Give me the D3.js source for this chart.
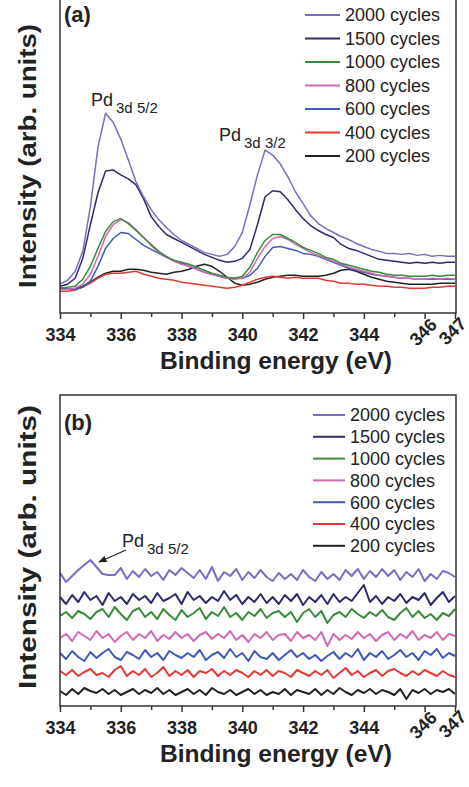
<!DOCTYPE html>
<html>
<head>
<meta charset="utf-8">
<script src="https://cdn.jsdelivr.net/npm/d3@7"></script>
<style>
  body { margin: 0; background: #fff; }
  svg { display: block; }
  text { font-family: "Liberation Sans", Arial, Helvetica, sans-serif; fill: #222; }
</style>
</head>
<body>
<svg id="chart" width="469" height="787"></svg>
<script>
// Deposition cycles, legend order
const seriesNames = ["2000 cycles", "1500 cycles", "1000 cycles", "800 cycles", "600 cycles", "400 cycles", "200 cycles"];
const seriesColors = ["#7a6cc4", "#2c2a6b", "#3a8a3c", "#d068b4", "#4058b8", "#e53935", "#222222"];

// Binding energy axis (eV)
const energyMin = 334;
const energyMax = 347;
const xTickValues = [334, 335, 336, 337, 338, 339, 340, 341, 342, 343, 344, 345, 346, 347];
const xTickLabels = ["334", "", "336", "", "338", "", "340", "", "342", "", "344", "", "346", "347"];

// (a) Pd 3d region, intensity (arb. units), evenly spaced from 334 to 347 eV
const a2000 = [27,31,40,60,105,165,199,190,173,152, 130,115,102,92,84,77,71,67,63,59, 57,55,57,65,79,107,137,162,157,148, 135,120,108,96,88,83,79,75,72,68, 65,62,60,58,58,57,58,56,57,55, 56,55,55];
const a1500 = [25,27,33,53,87,119,141,142,137,133, 127,113,95,85,77,73,69,65,61,57, 54,51,49,50,53,62,87,115,121,120, 112,102,93,86,81,77,74,67,63,61, 58,55,52,51,50,49,48,49,48,49, 48,49,49];
const a1000 = [23,24,25,32,45,63,80,90,93,88, 81,74,67,60,55,51,49,47,44,41, 38,36,34,33,35,44,59,71,77,77, 73,69,64,61,58,54,52,48,46,44, 42,40,39,37,36,36,35,35,35,36, 35,36,36];
const a800  = [22,22,23,27,37,55,75,87,92,89, 82,74,66,59,54,50,47,45,42,39, 37,35,33,32,33,39,53,65,73,75, 72,67,63,59,56,53,50,47,44,42, 40,38,36,35,34,33,33,32,32,33, 32,33,32];
const a600  = [22,22,22,24,30,45,63,73,79,78, 72,66,62,58,54,51,48,45,42,39, 37,35,33,33,33,36,43,55,64,65, 63,61,58,57,55,52,49,46,43,41, 39,37,36,35,34,33,33,32,32,32, 32,32,32];
const a400  = [20,20,21,24,28,33,37,38,38,39, 40,37,35,33,32,31,29,28,27,26, 25,24,23,24,26,29,32,34,35,34, 33,34,33,33,33,31,30,28,28,27, 27,26,25,25,24,24,23,23,23,24, 24,25,25];
const a200  = [23,22,22,25,29,34,38,40,40,42, 42,41,39,38,37,39,40,42,45,47, 45,40,34,28,26,27,29,32,34,35, 36,36,35,35,35,36,38,41,42,40, 37,34,32,30,29,28,27,27,27,27, 28,28,28];

// (b) same energy window, stacked spectra (arb. units)
const b2000 = [133,124,130,136,141,146,139,132,131,131, 138,127,135,129,137,130,134,126,136,131, 138,133,128,136,127,139,125,134,130,137, 126,134,128,136,129,125,133,127,132,126, 136,129,125,134,127,132,126,136,130,137, 127,135,129,137,130,136,126,134,129,137, 125,132,127,135,133,129];
const b1500 = [109,102,111,104,114,106,110,101,113,105, 109,102,112,106,110,103,113,105,108,112, 102,114,106,110,103,109,105,115,106,111, 102,109,104,112,103,109,102,111,105,112, 101,109,104,111,102,112,104,109,105,113, 121,104,110,102,109,105,112,103,109,106, 113,101,108,114,104,110];
const b1000 = [90,94,88,95,92,87,94,97,89,99, 92,86,95,98,89,94,87,97,91,86, 96,89,93,98,87,94,90,99,89,93, 86,94,90,97,88,93,95,89,94,84, 93,97,89,95,83,91,94,89,97,92, 88,94,90,96,89,86,93,98,89,95, 88,92,86,93,90,97];
const b800  = [68,72,65,74,70,66,75,68,72,64, 70,74,66,72,68,75,65,71,67,74, 68,72,65,71,74,67,72,68,75,66, 71,64,72,68,74,66,71,72,65,74, 68,71,66,74,60,72,66,71,67,74, 68,72,65,71,74,66,72,68,75,66, 71,68,74,66,72,70];
const b600  = [53,47,55,49,45,54,48,53,57,49, 46,54,51,47,56,49,53,46,55,51, 48,53,49,56,46,51,54,48,57,49, 53,45,55,49,47,53,46,51,56,49, 53,47,51,45,50,54,47,53,49,57, 46,53,49,55,47,51,56,49,53,46, 55,51,57,48,53,50];
const b400  = [35,31,36,30,34,37,31,33,29,36, 40,30,35,31,37,29,33,39,30,35, 31,36,29,35,33,37,30,35,31,36, 33,29,35,31,36,30,35,33,29,36, 33,30,35,31,36,28,33,38,31,35, 29,33,36,30,35,37,33,30,35,31, 36,33,30,35,31,29];
const b200  = [15,11,17,12,18,15,13,17,12,16, 11,14,17,12,16,13,18,12,16,11, 14,17,12,16,11,18,14,12,16,11, 14,17,12,16,11,14,12,17,11,16, 14,12,17,11,16,12,18,14,11,16, 13,17,12,16,14,11,17,7,16,13, 17,12,16,14,17,12];

const panelASeries = [a2000, a1500, a1000, a800, a600, a400, a200];
const panelBSeries = [b2000, b1500, b1000, b800, b600, b400, b200];

const svg = d3.select("#chart");
const FONT = '"Liberation Sans", Arial, Helvetica, sans-serif';

// pair each intensity with its energy on the evenly spaced grid
function toPoints(values) {
  const step = (energyMax - energyMin) / (values.length - 1);
  return values.map((v, i) => [energyMin + i * step, v]);
}

function drawPanel(cfg) {
  const g = svg.append("g");
  const x = d3.scaleLinear().domain([energyMin, energyMax]).range([cfg.left, cfg.right]);
  const y = d3.scaleLinear().domain(cfg.yDomain).range([cfg.bottom, cfg.top]);

  // spectra
  const line = d3.line().x(d => x(d[0])).y(d => y(d[1]));
  const order = d3.range(cfg.series.length).reverse();
  order.forEach(i => {
    g.append("path")
      .attr("d", line(toPoints(cfg.series[i])))
      .attr("fill", "none")
      .attr("stroke", seriesColors[i])
      .attr("stroke-width", cfg.lineWidth)
      .attr("stroke-linejoin", "round");
  });

  // frame
  g.append("rect")
    .attr("x", cfg.left).attr("y", cfg.frameTop)
    .attr("width", cfg.frameRight - cfg.left).attr("height", cfg.bottom - cfg.frameTop)
    .attr("fill", "none").attr("stroke", "#333").attr("stroke-width", 1.5);

  // bottom axis
  const axis = d3.axisBottom(x)
    .tickValues(xTickValues)
    .tickSize(6)
    .tickFormat((d, i) => xTickLabels[i]);
  const ag = g.append("g").attr("transform", `translate(0,${cfg.bottom})`).call(axis);
  ag.select(".domain").remove();
  ag.selectAll(".tick line")
    .attr("stroke", "#333").attr("stroke-width", 1.5)
    .attr("y2", (d, i) => xTickLabels[i] === "" ? 4 : 6);
  ag.selectAll(".tick text")
    .attr("font-family", FONT).attr("font-size", 18).attr("font-weight", "bold")
    .attr("fill", "#222").attr("y", 15);
  ag.selectAll(".tick text")
    .filter(d => d >= 346)
    .attr("y", 0).attr("dy", "0.35em")
    .attr("transform", d => d === 346 ? "translate(-2,19) rotate(-45)" : "translate(-3,18) rotate(-45)");

  // axis titles
  g.append("text")
    .attr("x", 276).attr("y", cfg.xTitleY)
    .attr("text-anchor", "middle")
    .attr("font-size", 24).attr("font-weight", "bold")
    .attr("textLength", 232).attr("lengthAdjust", "spacingAndGlyphs")
    .text("Binding energy (eV)");
  g.append("text")
    .attr("transform", `translate(36,${cfg.yTitleCenter}) rotate(-90)`)
    .attr("text-anchor", "middle")
    .attr("font-size", 24).attr("font-weight", "bold")
    .attr("textLength", cfg.yTitleLength).attr("lengthAdjust", "spacingAndGlyphs")
    .text("Intensity (arb. units)");

  // panel tag
  g.append("text")
    .attr("x", 64).attr("y", cfg.tagY)
    .attr("font-size", 22).attr("font-weight", "bold")
    .text(cfg.tag);

  // legend
  const lg = g.append("g");
  seriesNames.forEach((name, i) => {
    const yy = cfg.legendTop + i * cfg.legendStep;
    lg.append("line")
      .attr("x1", cfg.legendX).attr("x2", cfg.legendX + cfg.legendLine)
      .attr("y1", yy).attr("y2", yy)
      .attr("stroke", seriesColors[i]).attr("stroke-width", 2);
    lg.append("text")
      .attr("x", cfg.legendX + cfg.legendLine + 5).attr("y", yy)
      .attr("dy", "0.36em")
      .attr("font-size", 18)
      .text(name);
  });

  return { g, x, y };
}

// peak label "Pd" with subscript
function peakLabel(g, px, py, sub) {
  const t = g.append("text").attr("x", px).attr("y", py).attr("font-size", 18);
  t.append("tspan").text("Pd");
  t.append("tspan").attr("dx", 3).attr("dy", 7).attr("font-size", 15).text(sub);
}

const panelA = drawPanel({
  series: panelASeries, tag: "(a)",
  left: 60, right: 455, frameRight: 456, top: 1, frameTop: -2, bottom: 313,
  yDomain: [-2, 312], lineWidth: 1.5,
  xTitleY: 369, yTitleCenter: 156, yTitleLength: 264, tagY: 22,
  legendX: 305, legendLine: 35, legendTop: 15, legendStep: 23.5
});
peakLabel(panelA.g, 91, 106, "3d 5/2");
peakLabel(panelA.g, 219, 141, "3d 3/2");

const panelB = drawPanel({
  series: panelBSeries, tag: "(b)",
  left: 60, right: 455, frameRight: 456, top: 395, frameTop: 395, bottom: 706,
  yDomain: [0, 311], lineWidth: 2,
  xTitleY: 762, yTitleCenter: 547, yTitleLength: 284, tagY: 430,
  legendX: 313, legendLine: 32, legendTop: 415, legendStep: 21.8
});
peakLabel(panelB.g, 122, 547, "3d 5/2");

// arrow to the weak Pd 3d 5/2 peak of the 2000-cycle film
const defs = svg.append("defs");
defs.append("marker")
  .attr("id", "arrowHead").attr("viewBox", "0 0 10 10")
  .attr("refX", 9).attr("refY", 5)
  .attr("markerWidth", 7).attr("markerHeight", 7)
  .attr("orient", "auto")
  .append("path").attr("d", "M0,1 L10,5 L0,9 Z").attr("fill", "#222");
panelB.g.append("line")
  .attr("x1", 126).attr("y1", 550).attr("x2", 99).attr("y2", 562)
  .attr("stroke", "#222").attr("stroke-width", 1.2)
  .attr("marker-end", "url(#arrowHead)");
</script>
</body>
</html>
